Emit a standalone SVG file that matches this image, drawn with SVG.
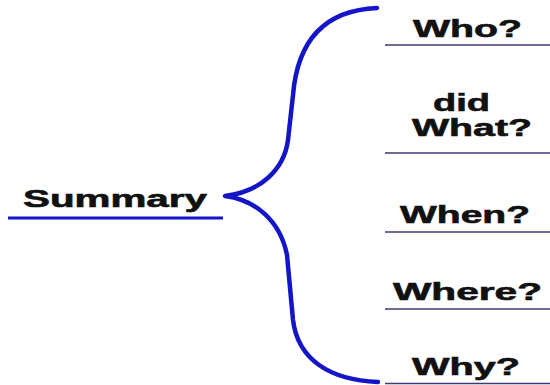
<svg xmlns="http://www.w3.org/2000/svg" width="550" height="385" viewBox="0 0 550 385">
<style>
.t{font-family:"Liberation Sans",Arial,sans-serif;font-weight:bold;font-size:24px;fill:#111;stroke:#111;stroke-width:0.6;}
.ul{stroke:#3c3c70;stroke-width:1.6;fill:none;}
.brace{stroke:#1414c8;stroke-width:4.5;fill:none;stroke-linecap:round;stroke-linejoin:round;}
</style>
<rect width="550" height="385" fill="#fff"/>
<g id="connectors">
<path class="brace" d="M377,8 C330,10 298,35 293,95 L288,140 C284,170 260,192 225,196 C255,200 280,220 287,255 L293,320 C298,360 330,380 378,382"/>
</g>
<g id="summary">
<text class="t" x="23" y="207" font-size="25" textLength="184" lengthAdjust="spacingAndGlyphs">Summary</text>
<line x1="8" y1="218" x2="223" y2="218" stroke="#1414c8" stroke-width="3"/>
</g>
<g id="who">
<text class="t" x="413" y="37" textLength="109" lengthAdjust="spacingAndGlyphs">Who?</text>
<line class="ul" x1="385" y1="45" x2="550" y2="45"/>
</g>
<g id="what">
<text class="t" x="433" y="111" font-size="22" textLength="57" lengthAdjust="spacingAndGlyphs">did</text>
<text class="t" x="412" y="136" font-size="22" textLength="120" lengthAdjust="spacingAndGlyphs">What?</text>
<line class="ul" x1="385" y1="153" x2="550" y2="153"/>
</g>
<g id="when">
<text class="t" x="400" y="223" textLength="130" lengthAdjust="spacingAndGlyphs">When?</text>
<line class="ul" x1="385" y1="232" x2="550" y2="232"/>
</g>
<g id="where">
<text class="t" x="393" y="300" textLength="149" lengthAdjust="spacingAndGlyphs">Where?</text>
<line class="ul" x1="385" y1="309" x2="550" y2="309"/>
</g>
<g id="why">
<text class="t" x="412" y="375" textLength="108" lengthAdjust="spacingAndGlyphs">Why?</text>
<line class="ul" x1="385" y1="383.5" x2="550" y2="383.5"/>
</g>
</svg>
